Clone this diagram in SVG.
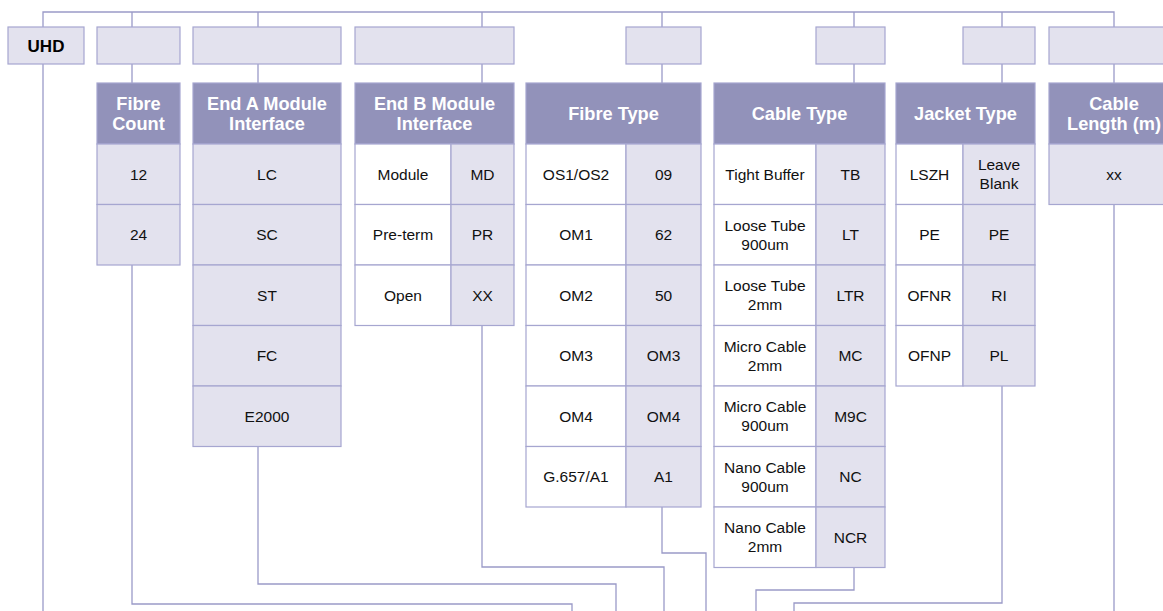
<svg xmlns="http://www.w3.org/2000/svg" width="1163" height="611" viewBox="0 0 1163 611">
<style>
.bg{fill:#ffffff}
.lt{fill:#e3e2ee;stroke:#a6a6d0;stroke-width:1.2}
.wt{fill:#ffffff;stroke:#a6a6d0;stroke-width:1.2}
.hd{fill:#9292ba;stroke:#a6a6d0;stroke-width:1.2}
.ht{font-family:"Liberation Sans",Arial,sans-serif;font-weight:bold;font-size:18.2px;fill:#ffffff;text-anchor:middle;dominant-baseline:central}
.t{font-family:"Liberation Sans",Arial,sans-serif;font-size:15.5px;fill:#111111;text-anchor:middle;dominant-baseline:central}
.u{font-family:"Liberation Sans",Arial,sans-serif;font-weight:bold;font-size:17px;fill:#000000;text-anchor:middle;dominant-baseline:central}
.c{fill:none;stroke:#9a9ac8;stroke-width:1.3}
</style>
<rect class="bg" x="0" y="0" width="1163" height="611"/>
<g id="connectors">
<path class="c" d="M43,27V12H1114V27M132,12V27M258,12V27M482,12V27M662,12V27M854,12V27M1002,12V27"/>
<path class="c" d="M132,64V83M258,64V83M482,64V83M662,64V83M854,64V83M1002,64V83M1114,64V83"/>
<path class="c" d="M43,64V611"/>
<path class="c" d="M132,265V604H572V611"/>
<path class="c" d="M258,446V584H616V611"/>
<path class="c" d="M482,325V567H664V611"/>
<path class="c" d="M662,507V553H706V611"/>
<path class="c" d="M854,567V590H756V611"/>
<path class="c" d="M1002,386V603H794V611"/>
<path class="c" d="M1114,204V611"/>
</g>
<g id="top-boxes">
<g id="uhd"><rect class="lt" x="8" y="27" width="76" height="37"/><text class="u" x="46" y="46">UHD</text></g>
<rect id="slot-fibre-count" class="lt" x="97" y="27" width="83" height="37"/>
<rect id="slot-end-a" class="lt" x="193" y="27" width="148" height="37"/>
<rect id="slot-end-b" class="lt" x="355" y="27" width="159" height="37"/>
<rect id="slot-fibre-type" class="lt" x="626" y="27" width="75" height="37"/>
<rect id="slot-cable-type" class="lt" x="816" y="27" width="69" height="37"/>
<rect id="slot-jacket-type" class="lt" x="963" y="27" width="72" height="37"/>
<rect id="slot-cable-length" class="lt" x="1049" y="27" width="130" height="37"/>
</g>
<g id="fibre-count">
<rect class="hd" x="97" y="83" width="83" height="61"/>
<text class="ht" x="138.5" y="104">Fibre</text><text class="ht" x="138.5" y="124">Count</text>
<rect class="lt" x="97" y="144" width="83" height="60.5"/><text class="t" x="138.5" y="174">12</text>
<rect class="lt" x="97" y="204.5" width="83" height="60.5"/><text class="t" x="138.5" y="234.5">24</text>
</g>
<g id="end-a">
<rect class="hd" x="193" y="83" width="148" height="61"/>
<text class="ht" x="267" y="104">End A Module</text><text class="ht" x="267" y="124">Interface</text>
<rect class="lt" x="193" y="144" width="148" height="60.5"/><text class="t" x="267" y="174">LC</text>
<rect class="lt" x="193" y="204.5" width="148" height="60.5"/><text class="t" x="267" y="234.5">SC</text>
<rect class="lt" x="193" y="265" width="148" height="60.5"/><text class="t" x="267" y="295">ST</text>
<rect class="lt" x="193" y="325.5" width="148" height="60.5"/><text class="t" x="267" y="355.5">FC</text>
<rect class="lt" x="193" y="386" width="148" height="60.5"/><text class="t" x="267" y="416">E2000</text>
</g>
<g id="end-b">
<rect class="hd" x="355" y="83" width="159" height="61"/>
<text class="ht" x="434.5" y="104">End B Module</text><text class="ht" x="434.5" y="124">Interface</text>
<rect class="wt" x="355" y="144" width="96" height="60.5"/><rect class="lt" x="451" y="144" width="63" height="60.5"/>
<text class="t" x="403" y="174">Module</text><text class="t" x="482.5" y="174">MD</text>
<rect class="wt" x="355" y="204.5" width="96" height="60.5"/><rect class="lt" x="451" y="204.5" width="63" height="60.5"/>
<text class="t" x="403" y="234.5">Pre-term</text><text class="t" x="482.5" y="234.5">PR</text>
<rect class="wt" x="355" y="265" width="96" height="60.5"/><rect class="lt" x="451" y="265" width="63" height="60.5"/>
<text class="t" x="403" y="295">Open</text><text class="t" x="482.5" y="295">XX</text>
</g>
<g id="fibre-type">
<rect class="hd" x="526" y="83" width="175" height="61"/>
<text class="ht" x="613.5" y="114">Fibre Type</text>
<rect class="wt" x="526" y="144" width="100" height="60.5"/><rect class="lt" x="626" y="144" width="75" height="60.5"/>
<text class="t" x="576" y="174">OS1/OS2</text><text class="t" x="663.5" y="174">09</text>
<rect class="wt" x="526" y="204.5" width="100" height="60.5"/><rect class="lt" x="626" y="204.5" width="75" height="60.5"/>
<text class="t" x="576" y="234.5">OM1</text><text class="t" x="663.5" y="234.5">62</text>
<rect class="wt" x="526" y="265" width="100" height="60.5"/><rect class="lt" x="626" y="265" width="75" height="60.5"/>
<text class="t" x="576" y="295">OM2</text><text class="t" x="663.5" y="295">50</text>
<rect class="wt" x="526" y="325.5" width="100" height="60.5"/><rect class="lt" x="626" y="325.5" width="75" height="60.5"/>
<text class="t" x="576" y="355.5">OM3</text><text class="t" x="663.5" y="355.5">OM3</text>
<rect class="wt" x="526" y="386" width="100" height="60.5"/><rect class="lt" x="626" y="386" width="75" height="60.5"/>
<text class="t" x="576" y="416">OM4</text><text class="t" x="663.5" y="416">OM4</text>
<rect class="wt" x="526" y="446.5" width="100" height="60.5"/><rect class="lt" x="626" y="446.5" width="75" height="60.5"/>
<text class="t" x="576" y="476.5">G.657/A1</text><text class="t" x="663.5" y="476.5">A1</text>
</g>
<g id="cable-type">
<rect class="hd" x="714" y="83" width="171" height="61"/>
<text class="ht" x="799.5" y="114">Cable Type</text>
<rect class="wt" x="714" y="144" width="102" height="60.5"/><rect class="lt" x="816" y="144" width="69" height="60.5"/>
<text class="t" x="765" y="174">Tight Buffer</text><text class="t" x="850.5" y="174">TB</text>
<rect class="wt" x="714" y="204.5" width="102" height="60.5"/><rect class="lt" x="816" y="204.5" width="69" height="60.5"/>
<text class="t" x="765" y="225">Loose Tube</text><text class="t" x="765" y="244">900um</text><text class="t" x="850.5" y="234.5">LT</text>
<rect class="wt" x="714" y="265" width="102" height="60.5"/><rect class="lt" x="816" y="265" width="69" height="60.5"/>
<text class="t" x="765" y="285.5">Loose Tube</text><text class="t" x="765" y="304.5">2mm</text><text class="t" x="850.5" y="295">LTR</text>
<rect class="wt" x="714" y="325.5" width="102" height="60.5"/><rect class="lt" x="816" y="325.5" width="69" height="60.5"/>
<text class="t" x="765" y="346">Micro Cable</text><text class="t" x="765" y="365">2mm</text><text class="t" x="850.5" y="355.5">MC</text>
<rect class="wt" x="714" y="386" width="102" height="60.5"/><rect class="lt" x="816" y="386" width="69" height="60.5"/>
<text class="t" x="765" y="406.5">Micro Cable</text><text class="t" x="765" y="425.5">900um</text><text class="t" x="850.5" y="416">M9C</text>
<rect class="wt" x="714" y="446.5" width="102" height="60.5"/><rect class="lt" x="816" y="446.5" width="69" height="60.5"/>
<text class="t" x="765" y="467">Nano Cable</text><text class="t" x="765" y="486">900um</text><text class="t" x="850.5" y="476.5">NC</text>
<rect class="wt" x="714" y="507" width="102" height="60.5"/><rect class="lt" x="816" y="507" width="69" height="60.5"/>
<text class="t" x="765" y="527.5">Nano Cable</text><text class="t" x="765" y="546.5">2mm</text><text class="t" x="850.5" y="537">NCR</text>
</g>
<g id="jacket-type">
<rect class="hd" x="896" y="83" width="139" height="61"/>
<text class="ht" x="965.5" y="114">Jacket Type</text>
<rect class="wt" x="896" y="144" width="67" height="60.5"/><rect class="lt" x="963" y="144" width="72" height="60.5"/>
<text class="t" x="929.5" y="174">LSZH</text><text class="t" x="999" y="164.5">Leave</text><text class="t" x="999" y="183.5">Blank</text>
<rect class="wt" x="896" y="204.5" width="67" height="60.5"/><rect class="lt" x="963" y="204.5" width="72" height="60.5"/>
<text class="t" x="929.5" y="234.5">PE</text><text class="t" x="999" y="234.5">PE</text>
<rect class="wt" x="896" y="265" width="67" height="60.5"/><rect class="lt" x="963" y="265" width="72" height="60.5"/>
<text class="t" x="929.5" y="295">OFNR</text><text class="t" x="999" y="295">RI</text>
<rect class="wt" x="896" y="325.5" width="67" height="60.5"/><rect class="lt" x="963" y="325.5" width="72" height="60.5"/>
<text class="t" x="929.5" y="355.5">OFNP</text><text class="t" x="999" y="355.5">PL</text>
</g>
<g id="cable-length">
<rect class="hd" x="1049" y="83" width="130" height="61"/>
<text class="ht" x="1114" y="104">Cable</text><text class="ht" x="1114" y="124">Length (m)</text>
<rect class="lt" x="1049" y="144" width="130" height="60.5"/><text class="t" x="1114" y="174">xx</text>
</g>
</svg>
